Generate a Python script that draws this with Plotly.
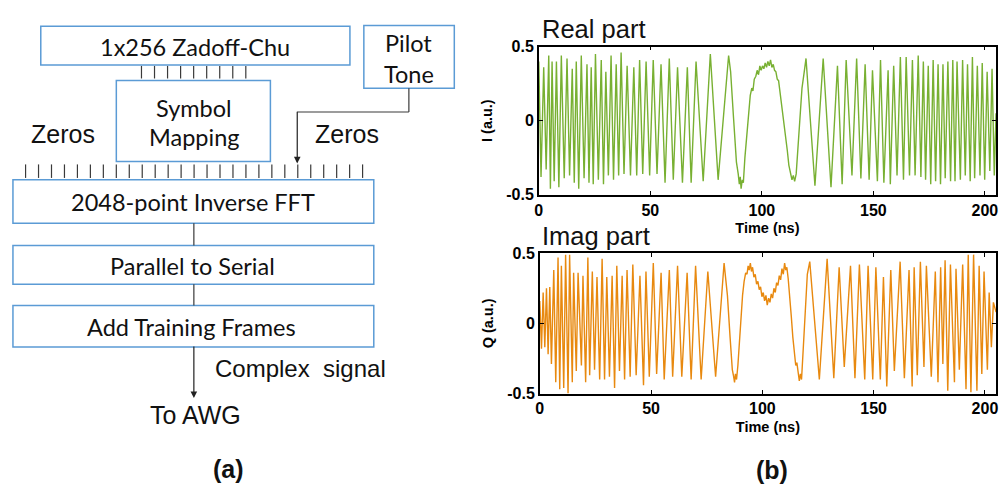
import plotly.graph_objects as go

# ---------------- waveform samples (time in ns, amplitude in a.u.) ----------------
real_pts = [
    (0.0, 0.40), (1.0, -0.38), (2.2, 0.36), (3.3, -0.33), (4.46, 0.44), (5.2, -0.46),
    (5.95, 0.40), (6.9, -0.41), (7.9, 0.40), (9.0, -0.45), (10.1, 0.44), (11.4, -0.39),
    (12.65, 0.42), (13.8, -0.37), (15.0, 0.35), (15.9, -0.42), (16.8, 0.40), (17.9, -0.46),
    (19.05, 0.44), (20.3, -0.39), (21.6, 0.38), (22.5, -0.42), (23.5, 0.36), (24.4, -0.43),
    (25.4, 0.45), (26.7, -0.40), (28.0, 0.41), (29.0, -0.43), (30.06, 0.33), (31.2, -0.37),
    (32.4, 0.44), (33.5, -0.40), (34.7, 0.38), (35.8, -0.37), (36.9, 0.46), (38.2, -0.36),
    (39.6, 0.37), (41.1, -0.37), (42.6, 0.36), (43.9, -0.37), (45.2, 0.41), (46.6, -0.36),
    (48.1, 0.40), (49.7, -0.37), (51.3, 0.41), (53.0, -0.36), (54.8, 0.38), (56.6, -0.42),
    (58.5, 0.42), (60.3, -0.40), (62.2, 0.36), (64.4, -0.42), (66.6, 0.36), (68.3, -0.42),
    (70.5, 0.40), (73.7, -0.41), (76.9, 0.45), (80.4, -0.40), (85.1, 0.44),
    (86.0, 0.33), (87.3, 0.02), (88.6, -0.28), (89.4, -0.36), (89.9, -0.43), (90.3, -0.38),
    (90.7, -0.46), (91.2, -0.40), (91.7, -0.42), (92.4, -0.25), (93.2, -0.12), (94.0, 0.05),
    (94.8, 0.17), (95.5, 0.22), (96.0, 0.20), (96.6, 0.28), (97.3, 0.30), (97.9, 0.34),
    (98.5, 0.31), (99.1, 0.37), (99.7, 0.34), (100.3, 0.37), (100.9, 0.35), (101.5, 0.39),
    (102.1, 0.36), (102.7, 0.40), (103.3, 0.37), (103.9, 0.41), (104.5, 0.36), (105.1, 0.38),
    (105.7, 0.34), (106.3, 0.33), (106.9, 0.28), (107.5, 0.27), (108.1, 0.20), (108.7, 0.15),
    (109.4, 0.05), (110.1, -0.05), (110.7, -0.10), (111.4, -0.20), (112.1, -0.30), (112.8, -0.35),
    (113.5, -0.40), (114.1, -0.37), (114.7, -0.41), (115.4, -0.36), (116.2, -0.20), (117.0, 0.0),
    (118.0, 0.22), (119.0, 0.33), (119.8, 0.42),
    (123.8, -0.44), (127.5, 0.42), (131.0, -0.45), (133.9, 0.37), (136.0, -0.43), (137.8, 0.41),
    (140.4, -0.37), (142.5, 0.42), (144.4, -0.39), (146.3, 0.38), (148.1, -0.40), (149.6, 0.34),
    (151.8, -0.41), (153.2, 0.41), (154.7, -0.42), (156.6, 0.34), (157.6, -0.43), (159.1, 0.37),
    (160.6, -0.37), (162.1, 0.43), (163.5, -0.40), (164.7, 0.43), (166.2, -0.37), (167.5, 0.41),
    (168.7, -0.37), (170.1, 0.44), (171.3, -0.38), (172.4, 0.40), (173.4, -0.40), (174.6, 0.37),
    (175.7, -0.43), (176.8, 0.41), (177.9, -0.41), (179.0, 0.38), (180.1, -0.43), (181.2, 0.38),
    (182.2, -0.39), (183.4, 0.40), (184.6, -0.41), (185.6, 0.41), (186.6, -0.41), (187.5, 0.40),
    (189.0, -0.40), (190.0, 0.41), (191.2, -0.37), (192.2, 0.38), (193.4, -0.41), (194.4, 0.43),
    (195.4, -0.39), (196.6, 0.37), (197.8, -0.37), (198.8, 0.39), (199.9, -0.40), (201.0, 0.33),
    (202.2, -0.34), (203.2, 0.35), (204.2, -0.37), (205.0, 0.05),
]

imag_pts = [
    (0.0, 0.16), (0.76, -0.18), (1.51, 0.22), (2.25, -0.17), (3.0, 0.25), (3.74, -0.22),
    (4.49, 0.26), (5.23, -0.29), (6.28, 0.38), (7.17, -0.42), (8.2, 0.47), (8.96, -0.47),
    (9.7, 0.41), (10.75, -0.46), (11.6, 0.49), (12.7, -0.50), (13.4, 0.49), (14.6, -0.42),
    (15.2, 0.36), (16.4, -0.34), (17.2, 0.36), (18.7, -0.30), (19.4, 0.34), (20.6, -0.42),
    (21.6, 0.47), (22.4, -0.37), (23.6, 0.37), (24.6, -0.33), (25.7, 0.33), (26.9, -0.40),
    (28.0, 0.46), (29.1, -0.40), (30.1, 0.33), (31.3, -0.38), (32.5, 0.34), (33.6, -0.46),
    (34.6, 0.41), (35.8, -0.34), (37.0, 0.34), (38.1, -0.40), (39.2, 0.38), (40.6, -0.38),
    (41.8, 0.42), (43.3, -0.37), (45.0, 0.34), (46.6, -0.44), (47.7, 0.37), (49.2, -0.38),
    (51.0, 0.43), (52.5, -0.36), (54.5, 0.36), (55.9, -0.40), (58.2, 0.38), (59.7, -0.38),
    (61.9, 0.41), (63.8, -0.38), (66.2, 0.36), (68.0, -0.40), (70.0, 0.41), (72.5, -0.40),
    (75.5, 0.37), (79.0, -0.38), (82.8, 0.43),
    (84.3, 0.20), (85.5, -0.10), (86.5, -0.33), (87.1, -0.38), (87.5, -0.42), (87.9, -0.36),
    (88.4, -0.40), (89.0, -0.30), (89.7, -0.12), (90.4, 0.05), (91.1, 0.20), (91.8, 0.30),
    (92.5, 0.36), (93.1, 0.35), (93.6, 0.41), (94.1, 0.38), (94.6, 0.43), (95.1, 0.37),
    (95.6, 0.40), (96.2, 0.33), (96.8, 0.35), (97.4, 0.28), (98.0, 0.30), (98.6, 0.24),
    (99.2, 0.26), (99.8, 0.19), (100.4, 0.22), (101.0, 0.16), (101.6, 0.20), (102.2, 0.13),
    (102.8, 0.18), (103.4, 0.15), (104.0, 0.21), (104.6, 0.18), (105.2, 0.25), (105.8, 0.22),
    (106.4, 0.29), (107.0, 0.27), (107.6, 0.34), (108.2, 0.31), (108.8, 0.39), (109.4, 0.35),
    (110.0, 0.43), (110.5, 0.38), (111.0, 0.40), (111.6, 0.32), (112.3, 0.20), (113.0, 0.05),
    (113.7, -0.10), (114.4, -0.22), (115.0, -0.30), (115.5, -0.28), (116.0, -0.36), (116.6, -0.41),
    (117.1, -0.36), (117.6, -0.40), (118.3, -0.20), (119.2, 0.10), (120.2, 0.35), (121.3, 0.44),
    (125.6, -0.40), (129.1, 0.46), (132.1, -0.39), (134.5, 0.40), (136.8, -0.31), (139.6, 0.41),
    (141.6, -0.39), (143.6, 0.42), (146.0, -0.40), (147.5, 0.41), (149.6, -0.40), (151.0, 0.40),
    (153.0, -0.40), (154.4, 0.33), (155.9, -0.45), (157.7, 0.38), (159.3, -0.34), (161.9, 0.44),
    (163.8, -0.39), (165.9, 0.38), (167.3, -0.45), (168.2, 0.40), (169.6, -0.37), (171.0, 0.44),
    (172.6, -0.31), (173.7, 0.41), (175.9, -0.38), (177.7, 0.37), (178.9, -0.42), (180.1, 0.40),
    (181.1, -0.29), (182.1, 0.45), (183.3, -0.48), (184.5, 0.42), (186.3, -0.42), (187.0, 0.39),
    (188.5, -0.33), (190.0, 0.42), (191.5, -0.47), (192.5, 0.49), (193.7, -0.49), (194.9, 0.49),
    (196.4, -0.48), (197.4, 0.41), (198.6, -0.36), (199.6, 0.37), (201.1, -0.33), (201.9, 0.22),
    (202.9, -0.17), (203.8, 0.15), (205.0, 0.08),
]

real_time, real_amp = zip(*real_pts)
imag_time, imag_amp = zip(*imag_pts)

time_ticks = [0, 50, 100, 150, 200]
amp_ticks = [-0.5, 0, 0.5]
amp_ticktext = ["-0.5", "0", "0.5"]

GREEN = "#78B032"
ORANGE = "#E8890F"
BLUE = "#5B9BD5"
GREY = "#3a3a3a"

W, H = 1008, 493


def fx(x):
    return x / W


def fy(y):
    return 1 - y / H


fig = go.Figure()
fig.add_trace(go.Scatter(x=real_time, y=real_amp, mode="lines",
                         line=dict(color=GREEN, width=1.4), xaxis="x", yaxis="y",
                         showlegend=False, hoverinfo="skip"))
fig.add_trace(go.Scatter(x=imag_time, y=imag_amp, mode="lines",
                         line=dict(color=ORANGE, width=1.4), xaxis="x2", yaxis="y2",
                         showlegend=False, hoverinfo="skip"))

tick_font = dict(family="Liberation Sans", size=16, color="black", weight="bold")
title_font = dict(family="Liberation Sans", size=14.5, color="black", weight="bold")
axis_style = dict(showline=True, linecolor="black", linewidth=1.5, mirror="ticks",
                  ticks="inside", ticklen=4, tickwidth=1.2, tickcolor="black",
                  showgrid=False, zeroline=False, tickfont=tick_font)

fig.update_layout(
    width=W, height=H, margin=dict(l=0, r=0, t=0, b=0),
    paper_bgcolor="white", plot_bgcolor="white",
    xaxis=dict(axis_style, domain=[fx(538), fx(998)], range=[0, 205], tickvals=time_ticks,
               anchor="y", title=dict(text="Time (ns)", font=title_font, standoff=5)),
    yaxis=dict(axis_style, domain=[fy(193.3), fy(40)], range=[-0.5, 0.5], tickvals=amp_ticks,
               ticktext=amp_ticktext, anchor="x",
               title=dict(text="I (a.u.)", font=title_font, standoff=10)),
    xaxis2=dict(axis_style, domain=[fx(539), fx(998)], range=[0, 205], tickvals=time_ticks,
                anchor="y2", title=dict(text="Time (ns)", font=title_font, standoff=5)),
    yaxis2=dict(axis_style, domain=[fy(399.3), fy(254)], range=[-0.5, 0.5], tickvals=amp_ticks,
                ticktext=amp_ticktext, anchor="x2",
                title=dict(text="Q (a.u.)", font=title_font, standoff=10)),
)

# ---------------- block diagram ----------------
shapes = []
annotations = []


def box(x0, y0, x1, y1):
    shapes.append(dict(type="rect", xref="paper", yref="paper",
                       x0=fx(x0), x1=fx(x1), y0=fy(y1), y1=fy(y0),
                       line=dict(color=BLUE, width=1.5), fillcolor="white"))


def seg(x0, y0, x1, y1, width=1.2):
    shapes.append(dict(type="line", xref="paper", yref="paper",
                       x0=fx(x0), x1=fx(x1), y0=fy(y0), y1=fy(y1),
                       line=dict(color=GREY, width=width)))


def arrow(x, y_tail, y_head):
    annotations.append(dict(x=fx(x), y=fy(y_head), xref="paper", yref="paper",
                            ax=0, ay=-(y_head - y_tail), axref="pixel", ayref="pixel",
                            showarrow=True, arrowhead=2, arrowsize=1.1, arrowwidth=1.2,
                            arrowcolor="#222222", text=""))


def label(text, x, y, size=23.5, family="Lato", bold=False, xanchor="center"):
    annotations.append(dict(text=text, x=fx(x), y=fy(y), xref="paper", yref="paper",
                            showarrow=False, xanchor=xanchor, yanchor="middle",
                            font=dict(family=family, size=size, color="#111111",
                                      weight="bold" if bold else "normal")))


box(37, 19, 348, 59)        # Zadoff-Chu
box(362, 18, 453, 83)       # pilot tone
box(113, 75, 268, 159)      # symbol mapping
box(9, 178, 372, 223)       # IFFT
box(9, 246, 372, 286)       # parallel to serial
box(9, 308, 372, 351)       # training frames

# subcarrier lines
for i in range(9):
    x = 138.3 + i * 13.12
    seg(x, 60, x, 73)
for i in range(27):
    x = 21.7 + i * 13.04
    seg(x, 162, x, 176)

# pilot tone feed
seg(407.3, 83, 407.3, 107.7)
seg(407.3, 107.7, 295, 107.7)
arrow(295, 107.7, 161)

# serial chain
seg(191, 223, 191, 246)
seg(191, 286, 191, 308)
arrow(191, 351, 404)

label("1x256 Zadoff-Chu", 192, 40)
label("Pilot", 407, 36)
label("Tone", 407, 68)
label("Symbol", 191, 104)
label("Mapping", 191, 134)
label("2048-point Inverse FFT", 190, 201)
label("Parallel to Serial", 190, 267)
label("Add Training Frames", 189, 330)

label("Zeros", 59, 131, size=25, family="Liberation Sans")
label("Zeros", 345, 131, size=25, family="Liberation Sans")
label("Complex  signal", 210, 373, size=24, family="Liberation Sans", xanchor="left")
label("To AWG", 193, 422, size=25, family="Liberation Sans")
label("(a)", 226, 477, size=25, family="Liberation Sans", bold=True)
label("(b)", 773, 478, size=25, family="Liberation Sans", bold=True)

label("Real part", 539, 22, size=25.5, family="Liberation Sans", xanchor="left")
label("Imag part", 539, 236, size=25.5, family="Liberation Sans", xanchor="left")

fig.update_layout(shapes=shapes, annotations=annotations)
fig.write_html("out.html")
